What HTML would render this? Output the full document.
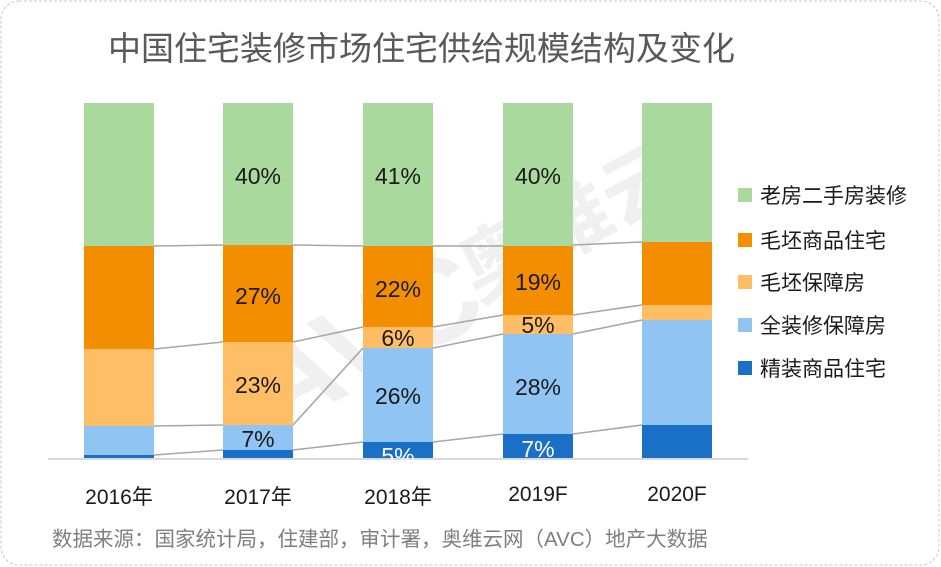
<!DOCTYPE html>
<html><head><meta charset="utf-8"><style>
html,body{margin:0;padding:0;background:#fff;}
svg{display:block;}
text{font-family:"Liberation Sans","Noto Sans CJK SC",sans-serif;}
</style></head><body>
<svg width="941" height="567" xmlns="http://www.w3.org/2000/svg">
<rect x="1" y="1" width="938" height="564" rx="18" fill="#fff" stroke="#c8c8c8" stroke-dasharray="3,2"/>
<text x="108" y="60" font-size="33" fill="#595959">中国住宅装修市场住宅供给规模结构及变化</text>
<g opacity="0.12" transform="rotate(-28 420 300)">
<text x="230" y="350" font-size="120" font-weight="bold" fill="#888">AVC</text>
<text x="470" y="330" font-size="80" font-weight="bold" fill="#888">奥维云</text>
</g>
<g stroke="#a6a6a6" stroke-width="1.6" fill="none">
<line x1="154" y1="246" x2="223" y2="245"/><line x1="293" y1="245" x2="363" y2="246"/><line x1="433" y1="246" x2="503" y2="246"/><line x1="573" y1="245" x2="642" y2="242"/>
<line x1="154" y1="349" x2="223" y2="342"/><line x1="293" y1="342" x2="363" y2="327"/><line x1="433" y1="327" x2="503" y2="315"/><line x1="573" y1="315" x2="642" y2="305"/>
<line x1="154" y1="426" x2="223" y2="425"/><line x1="293" y1="425" x2="363" y2="348"/><line x1="433" y1="348" x2="503" y2="334"/><line x1="573" y1="334" x2="642" y2="320"/>
<line x1="154" y1="455" x2="223" y2="450"/><line x1="293" y1="450" x2="363" y2="442"/><line x1="433" y1="442" x2="503" y2="434"/><line x1="573" y1="434" x2="642" y2="425"/>
</g>
<g>
<rect x="84" y="103" width="70" height="143" fill="#a9d99c"/><rect x="84" y="246" width="70" height="103" fill="#f28e00"/><rect x="84" y="349" width="70" height="77" fill="#ffbd66"/><rect x="84" y="426" width="70" height="29" fill="#90c4f2"/><rect x="84" y="455" width="70" height="4" fill="#1a6fc7"/>
<rect x="223" y="103" width="70" height="142" fill="#a9d99c"/><rect x="223" y="245" width="70" height="97" fill="#f28e00"/><rect x="223" y="342" width="70" height="83" fill="#ffbd66"/><rect x="223" y="425" width="70" height="25" fill="#90c4f2"/><rect x="223" y="450" width="70" height="9" fill="#1a6fc7"/>
<rect x="363" y="103" width="70" height="143" fill="#a9d99c"/><rect x="363" y="246" width="70" height="81" fill="#f28e00"/><rect x="363" y="327" width="70" height="21" fill="#ffbd66"/><rect x="363" y="348" width="70" height="94" fill="#90c4f2"/><rect x="363" y="442" width="70" height="17" fill="#1a6fc7"/>
<rect x="503" y="103" width="70" height="143" fill="#a9d99c"/><rect x="503" y="246" width="70" height="69" fill="#f28e00"/><rect x="503" y="315" width="70" height="19" fill="#ffbd66"/><rect x="503" y="334" width="70" height="100" fill="#90c4f2"/><rect x="503" y="434" width="70" height="25" fill="#1a6fc7"/>
<rect x="642" y="103" width="70" height="139" fill="#a9d99c"/><rect x="642" y="242" width="70" height="63" fill="#f28e00"/><rect x="642" y="305" width="70" height="15" fill="#ffbd66"/><rect x="642" y="320" width="70" height="105" fill="#90c4f2"/><rect x="642" y="425" width="70" height="34" fill="#1a6fc7"/>
</g>
<line x1="48" y1="459" x2="748" y2="459" stroke="#d9d9d9" stroke-width="2"/>
<g font-size="23" text-anchor="middle" fill="#1a1a1a">
<text x="258" y="184">40%</text><text x="398" y="184">41%</text><text x="538" y="184">40%</text>
<text x="258" y="304">27%</text><text x="398" y="297">22%</text><text x="538" y="290">19%</text>
<text x="258" y="393">23%</text><text x="398" y="346">6%</text><text x="538" y="333">5%</text>
<text x="398" y="404">26%</text><text x="538" y="395">28%</text>
<text x="258" y="447">7%</text>
<text x="398" y="464" fill="#fff">5%</text><text x="538" y="457" fill="#fff">7%</text>
</g>
<g font-size="21" text-anchor="middle" fill="#1a1a1a">
<text x="119" y="504">2016年</text><text x="258" y="504">2017年</text><text x="398" y="504">2018年</text><text x="538" y="501">2019F</text><text x="677" y="501">2020F</text>
</g>
<g font-size="21" fill="#1a1a1a">
<rect x="738" y="188" width="14" height="14" fill="#a9d99c"/><text x="760" y="203">老房二手房装修</text>
<rect x="738" y="233" width="14" height="14" fill="#f28e00"/><text x="760" y="248">毛坯商品住宅</text>
<rect x="738" y="275" width="14" height="14" fill="#ffbd66"/><text x="760" y="290">毛坯保障房</text>
<rect x="738" y="318" width="14" height="14" fill="#90c4f2"/><text x="760" y="333">全装修保障房</text>
<rect x="738" y="361" width="14" height="14" fill="#1a6fc7"/><text x="760" y="376">精装商品住宅</text>
</g>
<text x="52" y="546" font-size="20.5" fill="#7f7f7f">数据来源：国家统计局，住建部，审计署，奥维云网（AVC）地产大数据</text>
</svg>
</body></html>
